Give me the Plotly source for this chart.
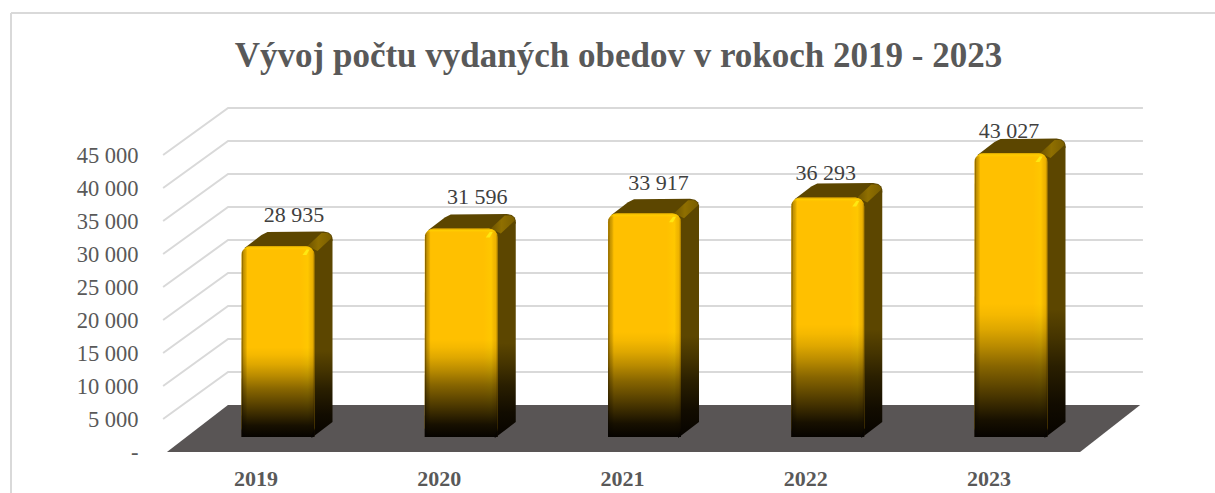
import math
import plotly.graph_objects as go

# ---------- data ----------
YEARS = ["2019", "2020", "2021", "2022", "2023"]
VALUES = [28935, 31596, 33917, 36293, 43027]
TICK_VALUES = [0, 5000, 10000, 15000, 20000, 25000, 30000, 35000, 40000, 45000]
TICK_LABELS = ["-", "5 000", "10 000", "15 000", "20 000", "25 000", "30 000", "35 000", "40 000", "45 000"]
TITLE = "Vývoj počtu vydaných obedov v rokoch 2019 - 2023"

# ---------- style / geometry ----------
W, H = 1215, 493
SERIF = "Liberation Serif"
PX_X = 183.25     # px per category
PX_Y = 0.0066     # px per unit of value
X0_PX = 256       # px of category 0
Y0_PX = 452       # px of value 0
L, R, T, B = 145, 25, 100, 41

def dx(px):
    return px / PX_X

def dy(px):
    return px / PX_Y

x_range = [(L - X0_PX) / PX_X, (W - R - X0_PX) / PX_X]
y_range = [0, (Y0_PX - T) / PX_Y]

WALL_DX, WALL_DY = dx(65), dy(47)
BAR_SHIFT_X, BAR_SHIFT_Y = dx(22), dy(15)
BAR_W = dx(73)
RADIUS = 9
LABEL_NUDGE = [(16, 30), (16, 29.5), (14, 29), (-2, 22.5), (-2, 21)]  # px from front-face centre / top

fig = go.Figure()

# wall grid lines
gx, gy = [], []
for v in TICK_VALUES[1:]:
    gx += [-0.507, -0.507 + WALL_DX, 4.84, None]
    gy += [v, v + WALL_DY, v + WALL_DY, None]
fig.add_trace(go.Scatter(x=gx, y=gy, mode="lines", line=dict(color="#d9d9d9", width=2),
                         hoverinfo="skip", showlegend=False, zorder=0))

# floor
fig.add_trace(go.Scatter(
    x=[-0.486, 4.497, 4.825, -0.153, -0.486], y=[0, 0, WALL_DY, WALL_DY, 0],
    mode="lines", fill="toself", fillcolor="#595555", line=dict(width=0),
    hoverinfo="skip", showlegend=False, zorder=0))
fig.add_trace(go.Scatter(x=[-0.49, 4.5], y=[dy(-1), dy(-1)], mode="lines",
                         line=dict(color="#d9d9d9", width=1.5), hoverinfo="skip",
                         showlegend=False, zorder=0, cliponaxis=False))

# value labels (sit behind the columns)
fig.add_trace(go.Scatter(
    x=[i + BAR_SHIFT_X + dx(LABEL_NUDGE[i][0]) for i in range(len(VALUES))],
    y=[v + BAR_SHIFT_Y + dy(LABEL_NUDGE[i][1]) for i, v in enumerate(VALUES)],
    text=[f"{v:,}".replace(",", " ") for v in VALUES],
    mode="text", textposition="middle center",
    textfont=dict(family=SERIF, size=22, color="#404040"),
    hoverinfo="skip", showlegend=False, zorder=0))

SIDE_SCALE = [[0, "#060300"], [0.12, "#120c00"], [0.25, "#2a1f00"], [0.35, "#453400"],
              [0.45, "#5c4600"], [1, "#5c4600"]]
SHADE_SCALE = [[0, "rgba(6,3,0,1)"], [0.06, "rgba(6,3,0,0.93)"], [0.14, "rgba(6,3,0,0.74)"],
               [0.25, "rgba(6,3,0,0.48)"], [0.32, "rgba(6,3,0,0.28)"], [0.38, "rgba(6,3,0,0.13)"],
               [0.43, "rgba(6,3,0,0.04)"], [0.47, "rgba(6,3,0,0)"], [1, "rgba(6,3,0,0)"]]
EDGE_SCALE = [[0, "rgba(40,25,0,0.7)"], [0.03, "rgba(90,65,0,0.35)"], [0.08, "rgba(0,0,0,0)"],
              [0.8, "rgba(255,215,0,0)"], [0.91, "rgba(255,215,0,0.3)"], [0.97, "rgba(170,125,0,0.2)"],
              [1, "rgba(60,40,0,0.5)"]]

for i, v in enumerate(VALUES):
    xl = i + BAR_SHIFT_X - BAR_W / 2
    xr = i + BAR_SHIFT_X + BAR_W / 2
    yb = BAR_SHIFT_Y
    yt = yb + v

    # side face
    fig.add_trace(go.Scatter(
        x=[xr - dx(4), xr + dx(18), xr + dx(18), xr - dx(3), xr - dx(4)],
        y=[yt - dy(3), yt + dy(7), yb + dy(15), yb + dy(-1), yt - dy(3)],
        mode="lines", fill="toself", line=dict(width=0),
        fillgradient=dict(type="vertical", colorscale=SIDE_SCALE, start=yb, stop=yt),
        hoverinfo="skip", showlegend=False, zorder=1))
    # top face
    fig.add_trace(go.Scatter(
        x=[xl + dx(3), xl + dx(20), xl + dx(26), xr + dx(9), xr + dx(14), xr + dx(17), xr + dx(18), xr + dx(18), xr, xl + dx(3)],
        y=[yt - dy(2), yt + dy(11), yt + dy(14), yt + dy(14.5), yt + dy(13.5), yt + dy(11), yt + dy(8), yt + dy(5), yt - dy(3), yt - dy(2)],
        mode="lines", fill="toself", fillcolor="#5c4600", line=dict(width=0),
        hoverinfo="skip", showlegend=False, zorder=1))
    # lit chamfer between top and side
    fig.add_trace(go.Scatter(
        x=[xr - dx(7), xr + dx(7), xr + dx(13), xr + dx(16), xr + dx(17), xr + dx(3), xr - dx(7)],
        y=[yt, yt + dy(13), yt + dy(13), yt + dy(11), yt + dy(8), yt - dy(5), yt],
        mode="lines", fill="toself", line=dict(width=0),
        fillgradient=dict(type="horizontal",
                          colorscale=[[0, "#6e5400"], [0.45, "#8f6f00"], [1, "#7a5e00"]],
                          start=xr - dx(7), stop=xr + dx(17)),
        hoverinfo="skip", showlegend=False, zorder=1))

# front faces: real bars
fig.add_trace(go.Bar(
    x=[i + BAR_SHIFT_X for i in range(len(VALUES))], y=VALUES, base=BAR_SHIFT_Y,
    width=BAR_W, marker=dict(color="#FFC000", cornerradius=RADIUS, line=dict(width=0)),
    hoverinfo="skip", showlegend=False, zorder=2))

def arc(cx, cy, a0, a1, n=6):
    return [(cx + dx(RADIUS) * math.cos(math.radians(a0 + (a1 - a0) * k / n)),
             cy + dy(RADIUS) * math.sin(math.radians(a0 + (a1 - a0) * k / n))) for k in range(n + 1)]

# shading over the front faces
for i, v in enumerate(VALUES):
    xl = i + BAR_SHIFT_X - BAR_W / 2
    xr = i + BAR_SHIFT_X + BAR_W / 2
    yb = BAR_SHIFT_Y
    yt = yb + v
    pts = ([(xl, yb)] + arc(xl + dx(RADIUS), yt - dy(RADIUS), 180, 90)
           + arc(xr - dx(RADIUS), yt - dy(RADIUS), 90, 0) + [(xr, yb), (xl, yb)])
    px = [p[0] for p in pts]
    py = [p[1] for p in pts]
    fig.add_trace(go.Scatter(
        x=px, y=py, mode="lines", fill="toself", line=dict(width=0),
        fillgradient=dict(type="horizontal", colorscale=EDGE_SCALE, start=xl, stop=xr),
        hoverinfo="skip", showlegend=False, zorder=3))
    # soft top edge
    fig.add_trace(go.Scatter(
        x=px, y=py, mode="lines", fill="toself", line=dict(width=0),
        fillgradient=dict(type="vertical",
                          colorscale=[[0, "rgba(255,210,0,0)"], [0.965, "rgba(255,210,0,0)"],
                                      [0.985, "rgba(255,215,0,0.55)"], [1, "rgba(190,140,0,0.7)"]],
                          start=yt - dy(120), stop=yt),
        hoverinfo="skip", showlegend=False, zorder=3))
    # dark fade toward the floor, over the edge light
    fig.add_trace(go.Scatter(
        x=px, y=py, mode="lines", fill="toself", line=dict(width=0),
        fillgradient=dict(type="vertical", colorscale=SHADE_SCALE, start=yb, stop=yt),
        hoverinfo="skip", showlegend=False, zorder=3))
    # specular highlight (small slanted streak)
    fig.add_trace(go.Scatter(
        x=[xr - dx(12), xr - dx(8), xr - dx(5), xr - dx(8), xr - dx(12)],
        y=[yt - dy(9), yt - dy(3.5), yt - dy(3.5), yt - dy(9), yt - dy(9)],
        mode="lines", fill="toself", fillcolor="rgba(255,235,20,0.9)", line=dict(width=0),
        hoverinfo="skip", showlegend=False, zorder=3))

def px_x(p):
    return (p - L) / (W - L - R)

def px_y(p):
    return 1 - (p - T) / (H - T - B)

BORDER = dict(color="#d9d9d9", width=2)
fig.update_layout(
    width=W, height=H, autosize=False,
    margin=dict(l=L, r=R, t=T, b=B, pad=0),
    paper_bgcolor="white", plot_bgcolor="white",
    showlegend=False,
    barmode="overlay",
    title=dict(text=TITLE, x=618.5 / W, xanchor="center", xref="container",
               y=1 - 54.5 / H, yanchor="middle", yref="container", automargin=False,
               font=dict(family=SERIF, size=35, color="#595959", weight="bold")),
    xaxis=dict(range=x_range, tickmode="array", tickvals=list(range(len(YEARS))), ticktext=YEARS,
               showgrid=False, zeroline=False, showline=False, ticks="outside", ticklen=7,
               tickcolor="rgba(0,0,0,0)", automargin=False,
               tickfont=dict(family=SERIF, size=22, color="#595959", weight="bold")),
    yaxis=dict(range=y_range, tickmode="array", tickvals=TICK_VALUES, ticktext=TICK_LABELS,
               showgrid=False, zeroline=False, showline=False, ticks="outside", ticklen=1,
               tickcolor="rgba(0,0,0,0)", automargin=False,
               tickfont=dict(family=SERIF, size=22.5, color="#595959")),
    shapes=[
        dict(type="line", xref="paper", yref="paper", x0=px_x(11), x1=px_x(W), y0=px_y(13), y1=px_y(13), line=BORDER, layer="below"),
        dict(type="line", xref="paper", yref="paper", x0=px_x(11), x1=px_x(11), y0=px_y(13), y1=px_y(H), line=BORDER, layer="below"),
    ],
)

fig.write_html("out.html", config={"displayModeBar": False},
               post_script="document.body.style.margin='0';document.body.style.overflow='hidden';")
